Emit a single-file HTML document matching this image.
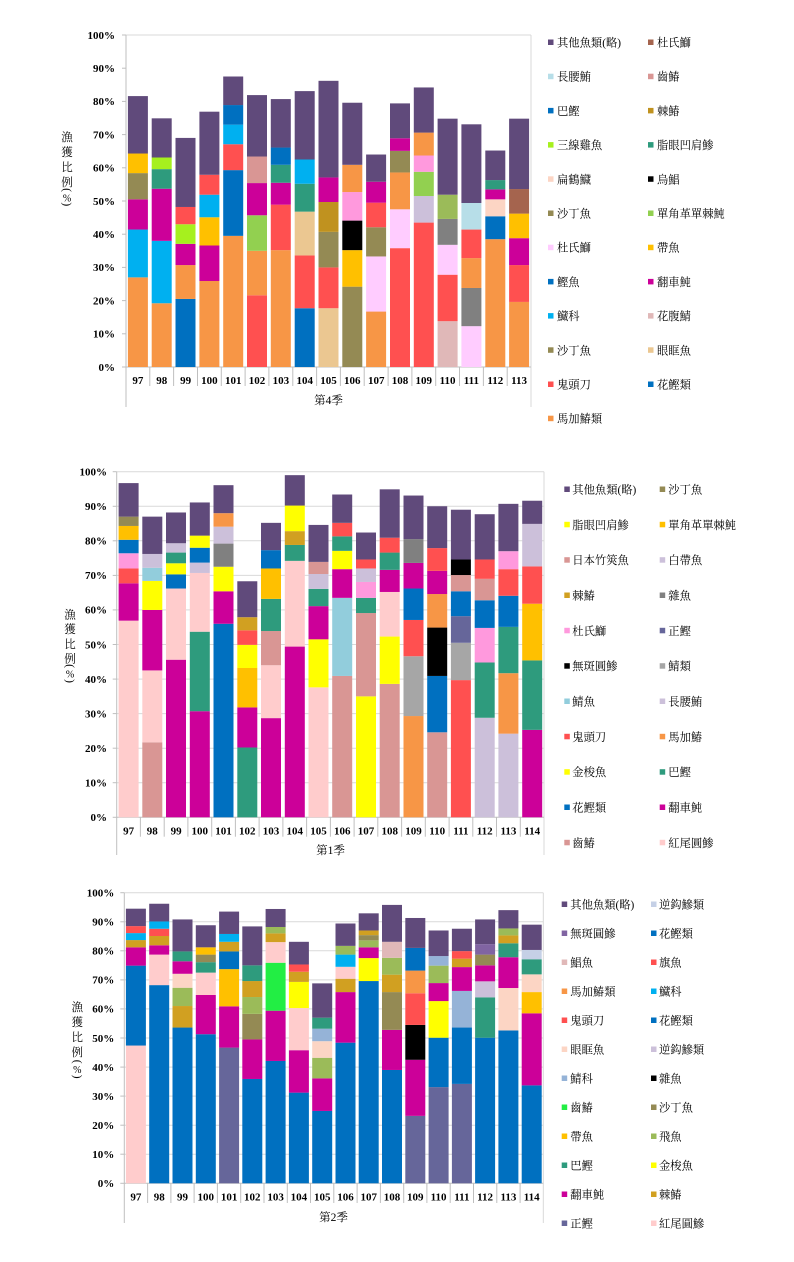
<!DOCTYPE html>
<html><head><meta charset="utf-8">
<style>
html,body{margin:0;padding:0;background:#fff;}
svg{display:block;}
.pu{fill:#604A7B}.br{fill:#A5644E}.lb{fill:#B7DEE8}.ro{fill:#D99694}.bl{fill:#0070C0}
.dg{fill:#C0921F}.dg2{fill:#D1A021}.li{fill:#A6F01E}.te{fill:#2E9B7D}.pe{fill:#FCD5C4}
.bk{fill:#000}.ol{fill:#948A54}.gr{fill:#92D050}.lp{fill:#FFCCFF}.go{fill:#FFC000}
.ma{fill:#CC0099}.cy{fill:#00B0F0}.dp{fill:#E0B8B8}.ta{fill:#EBC791}.re{fill:#FF5050}
.or{fill:#F79646}.gy{fill:#808080}.la{fill:#CCC0DA}.og{fill:#9BBB59}.pk{fill:#FF99DD}
.ye{fill:#FFFF00}.lk{fill:#FFCCCC}.sk{fill:#92CDDC}.lg{fill:#A6A6A6}.sl{fill:#66669A}
.bg{fill:#22EE44}.st{fill:#95B3D7}.ll{fill:#C5D0E6}.sp{fill:#8064A2}
.tk{font-family:"Liberation Serif",serif;font-weight:bold;font-size:11px;fill:#000;}
.lg1{font-family:"Liberation Serif","Noto Serif CJK SC",serif;font-size:11.3px;fill:#000;}
.ax{font-family:"Liberation Serif","Noto Serif CJK SC",serif;font-size:11.5px;fill:#000;}
</style></head>
<body>
<svg width="794" height="1262" viewBox="0 0 794 1262" xmlns="http://www.w3.org/2000/svg">

<!-- ================= CHART 1 ================= -->
<g stroke="#D9D9D9" stroke-width="1" fill="none">
<line x1="126" y1="35" x2="531" y2="35"/>
<line x1="531" y1="35" x2="531" y2="407"/>
</g>
<g stroke="#BFBFBF" stroke-width="1">
<line x1="126" y1="35" x2="126" y2="407"/>
<line x1="126" y1="367" x2="531" y2="367"/>
<line x1="122" y1="367" x2="126" y2="367"/><line x1="122" y1="333.8" x2="126" y2="333.8"/><line x1="122" y1="300.6" x2="126" y2="300.6"/><line x1="122" y1="267.4" x2="126" y2="267.4"/><line x1="122" y1="234.2" x2="126" y2="234.2"/><line x1="122" y1="201" x2="126" y2="201"/><line x1="122" y1="167.8" x2="126" y2="167.8"/><line x1="122" y1="134.6" x2="126" y2="134.6"/><line x1="122" y1="101.4" x2="126" y2="101.4"/><line x1="122" y1="68.2" x2="126" y2="68.2"/><line x1="122" y1="35" x2="126" y2="35"/>
<line x1="149.8" y1="367" x2="149.8" y2="386"/><line x1="173.6" y1="367" x2="173.6" y2="386"/><line x1="197.5" y1="367" x2="197.5" y2="386"/><line x1="221.3" y1="367" x2="221.3" y2="386"/><line x1="245.1" y1="367" x2="245.1" y2="386"/><line x1="268.9" y1="367" x2="268.9" y2="386"/><line x1="292.8" y1="367" x2="292.8" y2="386"/><line x1="316.6" y1="367" x2="316.6" y2="386"/><line x1="340.4" y1="367" x2="340.4" y2="386"/><line x1="364.2" y1="367" x2="364.2" y2="386"/><line x1="388.1" y1="367" x2="388.1" y2="386"/><line x1="411.9" y1="367" x2="411.9" y2="386"/><line x1="435.7" y1="367" x2="435.7" y2="386"/><line x1="459.5" y1="367" x2="459.5" y2="386"/><line x1="483.4" y1="367" x2="483.4" y2="386"/><line x1="507.2" y1="367" x2="507.2" y2="386"/>
</g>
<g class="tk" text-anchor="end">
<text x="115" y="370.8">0%</text><text x="115" y="337.6">10%</text><text x="115" y="304.4">20%</text><text x="115" y="271.2">30%</text><text x="115" y="238">40%</text><text x="115" y="204.8">50%</text><text x="115" y="171.6">60%</text><text x="115" y="138.4">70%</text><text x="115" y="105.2">80%</text><text x="115" y="72">90%</text><text x="115" y="38.8">100%</text>
</g>
<g class="tk" text-anchor="middle">
<text x="137.9" y="384">97</text><text x="161.7" y="384">98</text><text x="185.6" y="384">99</text><text x="209.4" y="384">100</text><text x="233.2" y="384">101</text><text x="257" y="384">102</text><text x="280.9" y="384">103</text><text x="304.7" y="384">104</text><text x="328.5" y="384">105</text><text x="352.3" y="384">106</text><text x="376.2" y="384">107</text><text x="400" y="384">108</text><text x="423.8" y="384">109</text><text x="447.6" y="384">110</text><text x="471.4" y="384">111</text><text x="495.3" y="384">112</text><text x="519.1" y="384">113</text>
</g>
<text class="ax" x="328.5" y="404" text-anchor="middle">第4季</text>
<g class="ax" text-anchor="middle">
<text x="67" y="141">漁</text><text x="67" y="156">獲</text><text x="67" y="171">比</text><text x="67" y="186">例</text>
<text transform="translate(67,190) rotate(90)" x="0" y="3.5">(</text>
<text x="67" y="201.3" font-size="10">%</text>
<text transform="translate(67,204.3) rotate(90)" x="0" y="3.5">)</text>
</g>

<g transform="translate(0,367) scale(1,-3.32)">
<g transform="translate(127.9,0)"><rect width="20" y="0" height="27" class="or"/><rect width="20" y="27" height="14.4" class="cy"/><rect width="20" y="41.4" height="9.1" class="ma"/><rect width="20" y="50.5" height="7.9" class="ol"/><rect width="20" y="58.4" height="5.9" class="go"/><rect width="20" y="64.3" height="17.3" class="pu"/></g>
<g transform="translate(151.7,0)"><rect width="20" y="0" height="19.2" class="or"/><rect width="20" y="19.2" height="18.8" class="cy"/><rect width="20" y="38" height="15.7" class="ma"/><rect width="20" y="53.7" height="5.9" class="te"/><rect width="20" y="59.6" height="3.5" class="li"/><rect width="20" y="63.1" height="11.8" class="pu"/></g>
<g transform="translate(175.5,0)"><rect width="20" y="0" height="20.5" class="bl"/><rect width="20" y="20.5" height="10.2" class="or"/><rect width="20" y="30.7" height="6.4" class="ma"/><rect width="20" y="37.1" height="5.9" class="li"/><rect width="20" y="43" height="5.2" class="re"/><rect width="20" y="48.2" height="20.8" class="pu"/></g>
<g transform="translate(199.4,0)"><rect width="20" y="0" height="25.9" class="or"/><rect width="20" y="25.9" height="10.7" class="ma"/><rect width="20" y="36.6" height="8.5" class="go"/><rect width="20" y="45.1" height="6.8" class="cy"/><rect width="20" y="51.9" height="6" class="re"/><rect width="20" y="57.9" height="19" class="pu"/></g>
<g transform="translate(223.2,0)"><rect width="20" y="0" height="39.5" class="or"/><rect width="20" y="39.5" height="19.8" class="bl"/><rect width="20" y="59.3" height="7.8" class="re"/><rect width="20" y="67.1" height="5.9" class="cy"/><rect width="20" y="73" height="5.9" class="bl"/><rect width="20" y="78.9" height="8.6" class="pu"/></g>
<g transform="translate(247,0)"><rect width="20" y="0" height="21.6" class="re"/><rect width="20" y="21.6" height="13.4" class="or"/><rect width="20" y="35" height="10.7" class="gr"/><rect width="20" y="45.7" height="9.7" class="ma"/><rect width="20" y="55.4" height="8" class="ro"/><rect width="20" y="63.4" height="18.5" class="pu"/></g>
<g transform="translate(270.8,0)"><rect width="20" y="0" height="35.2" class="or"/><rect width="20" y="35.2" height="13.7" class="re"/><rect width="20" y="48.9" height="6.6" class="ma"/><rect width="20" y="55.5" height="5.4" class="te"/><rect width="20" y="60.9" height="5.2" class="bl"/><rect width="20" y="66.1" height="14.6" class="pu"/></g>
<g transform="translate(294.7,0)"><rect width="20" y="0" height="17.7" class="bl"/><rect width="20" y="17.7" height="15.9" class="re"/><rect width="20" y="33.6" height="13.2" class="ta"/><rect width="20" y="46.8" height="8.4" class="te"/><rect width="20" y="55.2" height="7.3" class="cy"/><rect width="20" y="62.5" height="20.6" class="pu"/></g>
<g transform="translate(318.5,0)"><rect width="20" y="0" height="17.7" class="ta"/><rect width="20" y="17.7" height="12.3" class="re"/><rect width="20" y="30" height="10.7" class="ol"/><rect width="20" y="40.7" height="9" class="dg"/><rect width="20" y="49.7" height="7.4" class="ma"/><rect width="20" y="57.1" height="29.1" class="pu"/></g>
<g transform="translate(342.3,0)"><rect width="20" y="0" height="24.2" class="ol"/><rect width="20" y="24.2" height="11" class="go"/><rect width="20" y="35.2" height="8.9" class="bk"/><rect width="20" y="44.1" height="8.6" class="pk"/><rect width="20" y="52.7" height="8.2" class="or"/><rect width="20" y="60.9" height="18.7" class="pu"/></g>
<g transform="translate(366.1,0)"><rect width="20" y="0" height="16.7" class="or"/><rect width="20" y="16.7" height="16.6" class="lp"/><rect width="20" y="33.3" height="8.8" class="ol"/><rect width="20" y="42.1" height="7.4" class="re"/><rect width="20" y="49.5" height="6.3" class="ma"/><rect width="20" y="55.8" height="8.2" class="pu"/></g>
<g transform="translate(390,0)"><rect width="20" y="0" height="35.8" class="re"/><rect width="20" y="35.8" height="11.7" class="lp"/><rect width="20" y="47.5" height="11.1" class="or"/><rect width="20" y="58.6" height="6.5" class="ol"/><rect width="20" y="65.1" height="3.8" class="ma"/><rect width="20" y="68.9" height="10.5" class="pu"/></g>
<g transform="translate(413.8,0)"><rect width="20" y="0" height="43.5" class="re"/><rect width="20" y="43.5" height="8" class="la"/><rect width="20" y="51.5" height="7.3" class="gr"/><rect width="20" y="58.8" height="4.9" class="pk"/><rect width="20" y="63.7" height="6.9" class="or"/><rect width="20" y="70.6" height="13.6" class="pu"/></g>
<g transform="translate(437.6,0)"><rect width="20" y="0" height="13.8" class="dp"/><rect width="20" y="13.8" height="14" class="re"/><rect width="20" y="27.8" height="9" class="lp"/><rect width="20" y="36.8" height="7.8" class="gy"/><rect width="20" y="44.6" height="7.3" class="og"/><rect width="20" y="51.9" height="22.9" class="pu"/></g>
<g transform="translate(461.4,0)"><rect width="20" y="0" height="12.3" class="lp"/><rect width="20" y="12.3" height="11.5" class="gy"/><rect width="20" y="23.8" height="9" class="or"/><rect width="20" y="32.8" height="8.6" class="re"/><rect width="20" y="41.4" height="8" class="lb"/><rect width="20" y="49.4" height="23.7" class="pu"/></g>
<g transform="translate(485.3,0)"><rect width="20" y="0" height="38.5" class="or"/><rect width="20" y="38.5" height="6.9" class="bl"/><rect width="20" y="45.4" height="5.1" class="pe"/><rect width="20" y="50.5" height="3" class="ma"/><rect width="20" y="53.5" height="2.8" class="te"/><rect width="20" y="56.3" height="8.9" class="pu"/></g>
<g transform="translate(509.1,0)"><rect width="20" y="0" height="19.6" class="or"/><rect width="20" y="19.6" height="11.1" class="re"/><rect width="20" y="30.7" height="8.1" class="ma"/><rect width="20" y="38.8" height="7.4" class="go"/><rect width="20" y="46.2" height="7.4" class="br"/><rect width="20" y="53.6" height="21.2" class="pu"/></g>
</g>

<!-- legend 1 -->
<g>
<rect x="548" y="39.5" width="5.5" height="5.5" class="pu"/><rect x="548" y="73.7" width="5.5" height="5.5" class="lb"/><rect x="548" y="107.9" width="5.5" height="5.5" class="bl"/><rect x="548" y="142.1" width="5.5" height="5.5" class="li"/><rect x="548" y="176.3" width="5.5" height="5.5" class="pe"/><rect x="548" y="210.5" width="5.5" height="5.5" class="ol"/><rect x="548" y="244.7" width="5.5" height="5.5" class="lp"/><rect x="548" y="278.9" width="5.5" height="5.5" class="bl"/><rect x="548" y="313.1" width="5.5" height="5.5" class="cy"/><rect x="548" y="347.3" width="5.5" height="5.5" class="ol"/><rect x="548" y="381.5" width="5.5" height="5.5" class="re"/><rect x="548" y="415.7" width="5.5" height="5.5" class="or"/>
<rect x="648" y="39.5" width="5.5" height="5.5" class="br"/><rect x="648" y="73.7" width="5.5" height="5.5" class="ro"/><rect x="648" y="107.9" width="5.5" height="5.5" class="dg"/><rect x="648" y="142.1" width="5.5" height="5.5" class="te"/><rect x="648" y="176.3" width="5.5" height="5.5" class="bk"/><rect x="648" y="210.5" width="5.5" height="5.5" class="gr"/><rect x="648" y="244.7" width="5.5" height="5.5" class="go"/><rect x="648" y="278.9" width="5.5" height="5.5" class="ma"/><rect x="648" y="313.1" width="5.5" height="5.5" class="dp"/><rect x="648" y="347.3" width="5.5" height="5.5" class="ta"/><rect x="648" y="381.5" width="5.5" height="5.5" class="bl"/>
</g>
<g class="lg1">
<text x="557" y="46.5">其他魚類(略)</text><text x="557" y="80.7">長腰鮪</text><text x="557" y="114.9">巴鰹</text><text x="557" y="149.1">三線雞魚</text><text x="557" y="183.3">扁鶴鱵</text><text x="557" y="217.5">沙丁魚</text><text x="557" y="251.7">杜氏鰤</text><text x="557" y="285.9">鰹魚</text><text x="557" y="320.1">鱵科</text><text x="557" y="354.3">沙丁魚</text><text x="557" y="388.5">鬼頭刀</text><text x="557" y="422.7">馬加鰆類</text>
<text x="657" y="46.5">杜氏鰤</text><text x="657" y="80.7">齒鰆</text><text x="657" y="114.9">棘鰆</text><text x="657" y="149.1">脂眼凹肩鯵</text><text x="657" y="183.3">烏鯧</text><text x="657" y="217.5">單角革單棘魨</text><text x="657" y="251.7">帶魚</text><text x="657" y="285.9">翻車魨</text><text x="657" y="320.1">花腹鯖</text><text x="657" y="354.3">眼眶魚</text><text x="657" y="388.5">花鰹類</text>
</g>

<!-- ================= CHART 2 ================= -->
<g stroke="#D9D9D9" stroke-width="1">
<line x1="116.7" y1="782.7" x2="544" y2="782.7"/><line x1="116.7" y1="748.2" x2="544" y2="748.2"/><line x1="116.7" y1="713.6" x2="544" y2="713.6"/><line x1="116.7" y1="679.1" x2="544" y2="679.1"/><line x1="116.7" y1="644.5" x2="544" y2="644.5"/><line x1="116.7" y1="609.9" x2="544" y2="609.9"/><line x1="116.7" y1="575.4" x2="544" y2="575.4"/><line x1="116.7" y1="540.8" x2="544" y2="540.8"/><line x1="116.7" y1="506.3" x2="544" y2="506.3"/><line x1="116.7" y1="471.7" x2="544" y2="471.7"/>
<line x1="544" y1="471.7" x2="544" y2="855"/>
</g>
<g stroke="#BFBFBF" stroke-width="1">
<line x1="116.7" y1="471.7" x2="116.7" y2="855"/>
<line x1="116.7" y1="817.3" x2="544" y2="817.3"/>
<line x1="112.7" y1="817.3" x2="116.7" y2="817.3"/><line x1="112.7" y1="782.7" x2="116.7" y2="782.7"/><line x1="112.7" y1="748.2" x2="116.7" y2="748.2"/><line x1="112.7" y1="713.6" x2="116.7" y2="713.6"/><line x1="112.7" y1="679.1" x2="116.7" y2="679.1"/><line x1="112.7" y1="644.5" x2="116.7" y2="644.5"/><line x1="112.7" y1="609.9" x2="116.7" y2="609.9"/><line x1="112.7" y1="575.4" x2="116.7" y2="575.4"/><line x1="112.7" y1="540.8" x2="116.7" y2="540.8"/><line x1="112.7" y1="506.3" x2="116.7" y2="506.3"/><line x1="112.7" y1="471.7" x2="116.7" y2="471.7"/>
<line x1="140.4" y1="817.3" x2="140.4" y2="836.7"/><line x1="164.2" y1="817.3" x2="164.2" y2="836.7"/><line x1="187.9" y1="817.3" x2="187.9" y2="836.7"/><line x1="211.7" y1="817.3" x2="211.7" y2="836.7"/><line x1="235.4" y1="817.3" x2="235.4" y2="836.7"/><line x1="259.1" y1="817.3" x2="259.1" y2="836.7"/><line x1="282.9" y1="817.3" x2="282.9" y2="836.7"/><line x1="306.6" y1="817.3" x2="306.6" y2="836.7"/><line x1="330.4" y1="817.3" x2="330.4" y2="836.7"/><line x1="354.1" y1="817.3" x2="354.1" y2="836.7"/><line x1="377.8" y1="817.3" x2="377.8" y2="836.7"/><line x1="401.6" y1="817.3" x2="401.6" y2="836.7"/><line x1="425.3" y1="817.3" x2="425.3" y2="836.7"/><line x1="449.1" y1="817.3" x2="449.1" y2="836.7"/><line x1="472.8" y1="817.3" x2="472.8" y2="836.7"/><line x1="496.5" y1="817.3" x2="496.5" y2="836.7"/><line x1="520.3" y1="817.3" x2="520.3" y2="836.7"/>
</g>
<g class="tk" text-anchor="end">
<text x="107" y="821.1">0%</text><text x="107" y="786.5">10%</text><text x="107" y="752">20%</text><text x="107" y="717.4">30%</text><text x="107" y="682.9">40%</text><text x="107" y="648.3">50%</text><text x="107" y="613.7">60%</text><text x="107" y="579.2">70%</text><text x="107" y="544.6">80%</text><text x="107" y="510.1">90%</text><text x="107" y="475.5">100%</text>
</g>
<g class="tk" text-anchor="middle">
<text x="128.6" y="834.3">97</text><text x="152.3" y="834.3">98</text><text x="176.1" y="834.3">99</text><text x="199.8" y="834.3">100</text><text x="223.5" y="834.3">101</text><text x="247.3" y="834.3">102</text><text x="271" y="834.3">103</text><text x="294.8" y="834.3">104</text><text x="318.5" y="834.3">105</text><text x="342.2" y="834.3">106</text><text x="366" y="834.3">107</text><text x="389.7" y="834.3">108</text><text x="413.5" y="834.3">109</text><text x="437.2" y="834.3">110</text><text x="460.9" y="834.3">111</text><text x="484.7" y="834.3">112</text><text x="508.4" y="834.3">113</text><text x="532.2" y="834.3">114</text>
</g>
<text class="ax" x="330.5" y="854" text-anchor="middle">第1季</text>
<g class="ax" text-anchor="middle">
<text x="70" y="618.6">漁</text><text x="70" y="633">獲</text><text x="70" y="648">比</text><text x="70" y="662.3">例</text>
<text transform="translate(70,666) rotate(90)" x="0" y="3.5">(</text>
<text x="70" y="677.3" font-size="10">%</text>
<text transform="translate(70,681) rotate(90)" x="0" y="3.5">)</text>
</g>

<g transform="translate(0,817.3) scale(1,-3.456)">
<g transform="translate(118.6,0)"><rect width="20" y="0" height="56.9" class="lk"/><rect width="20" y="56.9" height="10.8" class="ma"/><rect width="20" y="67.7" height="4.3" class="re"/><rect width="20" y="72" height="4.4" class="pk"/><rect width="20" y="76.4" height="3.9" class="bl"/><rect width="20" y="80.3" height="4" class="go"/><rect width="20" y="84.3" height="2.7" class="ol"/><rect width="20" y="87" height="9.7" class="pu"/></g>
<g transform="translate(142.3,0)"><rect width="20" y="0" height="21.7" class="ro"/><rect width="20" y="21.7" height="20.8" class="lk"/><rect width="20" y="42.5" height="17.5" class="ma"/><rect width="20" y="60" height="8.4" class="ye"/><rect width="20" y="68.4" height="3.8" class="sk"/><rect width="20" y="72.2" height="4" class="la"/><rect width="20" y="76.2" height="10.8" class="pu"/></g>
<g transform="translate(166,0)"><rect width="20" y="0" height="45.6" class="ma"/><rect width="20" y="45.6" height="20.6" class="lk"/><rect width="20" y="66.2" height="4.1" class="bl"/><rect width="20" y="70.3" height="3.2" class="ye"/><rect width="20" y="73.5" height="3.1" class="te"/><rect width="20" y="76.6" height="2.7" class="la"/><rect width="20" y="79.3" height="8.9" class="pu"/></g>
<g transform="translate(189.8,0)"><rect width="20" y="0" height="30.7" class="ma"/><rect width="20" y="30.7" height="23" class="te"/><rect width="20" y="53.7" height="17" class="lk"/><rect width="20" y="70.7" height="3" class="la"/><rect width="20" y="73.7" height="4.3" class="bl"/><rect width="20" y="78" height="3.5" class="ye"/><rect width="20" y="81.5" height="9.6" class="pu"/></g>
<g transform="translate(213.5,0)"><rect width="20" y="0" height="56" class="bl"/><rect width="20" y="56" height="9.4" class="ma"/><rect width="20" y="65.4" height="7.1" class="ye"/><rect width="20" y="72.5" height="6.7" class="gy"/><rect width="20" y="79.2" height="4.9" class="la"/><rect width="20" y="84.1" height="3.9" class="or"/><rect width="20" y="88" height="8.1" class="pu"/></g>
<g transform="translate(237.3,0)"><rect width="20" y="0" height="20.2" class="te"/><rect width="20" y="20.2" height="11.6" class="ma"/><rect width="20" y="31.8" height="11.4" class="go"/><rect width="20" y="43.2" height="6.7" class="ye"/><rect width="20" y="49.9" height="4.2" class="re"/><rect width="20" y="54.1" height="3.8" class="dg2"/><rect width="20" y="57.9" height="10.4" class="pu"/></g>
<g transform="translate(261,0)"><rect width="20" y="0" height="28.7" class="ma"/><rect width="20" y="28.7" height="15.3" class="lk"/><rect width="20" y="44" height="9.9" class="ro"/><rect width="20" y="53.9" height="9.3" class="te"/><rect width="20" y="63.2" height="8.8" class="go"/><rect width="20" y="72" height="5.3" class="bl"/><rect width="20" y="77.3" height="7.9" class="pu"/></g>
<g transform="translate(284.8,0)"><rect width="20" y="0" height="49.4" class="ma"/><rect width="20" y="49.4" height="24.8" class="lk"/><rect width="20" y="74.2" height="4.6" class="te"/><rect width="20" y="78.8" height="4" class="dg2"/><rect width="20" y="82.8" height="7.4" class="ye"/><rect width="20" y="90.2" height="8.8" class="pu"/></g>
<g transform="translate(308.5,0)"><rect width="20" y="0" height="37.6" class="lk"/><rect width="20" y="37.6" height="13.9" class="ye"/><rect width="20" y="51.5" height="9.6" class="ma"/><rect width="20" y="61.1" height="5" class="te"/><rect width="20" y="66.1" height="4.3" class="la"/><rect width="20" y="70.4" height="3.5" class="ro"/><rect width="20" y="73.9" height="10.7" class="pu"/></g>
<g transform="translate(332.2,0)"><rect width="20" y="0" height="40.9" class="ro"/><rect width="20" y="40.9" height="22.6" class="sk"/><rect width="20" y="63.5" height="8.3" class="ma"/><rect width="20" y="71.8" height="5.3" class="ye"/><rect width="20" y="77.1" height="4.2" class="te"/><rect width="20" y="81.3" height="3.9" class="re"/><rect width="20" y="85.2" height="8.2" class="pu"/></g>
<g transform="translate(356,0)"><rect width="20" y="0" height="35" class="ye"/><rect width="20" y="35" height="24.1" class="ro"/><rect width="20" y="59.1" height="4.4" class="te"/><rect width="20" y="63.5" height="4.6" class="pk"/><rect width="20" y="68.1" height="3.9" class="la"/><rect width="20" y="72" height="2.6" class="re"/><rect width="20" y="74.6" height="7.8" class="pu"/></g>
<g transform="translate(379.7,0)"><rect width="20" y="0" height="38.6" class="ro"/><rect width="20" y="38.6" height="13.7" class="ye"/><rect width="20" y="52.3" height="12.9" class="lk"/><rect width="20" y="65.2" height="6.4" class="ma"/><rect width="20" y="71.6" height="5" class="te"/><rect width="20" y="76.6" height="4.3" class="re"/><rect width="20" y="80.9" height="14" class="pu"/></g>
<g transform="translate(403.5,0)"><rect width="20" y="0" height="29.3" class="or"/><rect width="20" y="29.3" height="17.3" class="lg"/><rect width="20" y="46.6" height="10.5" class="re"/><rect width="20" y="57.1" height="9.1" class="bl"/><rect width="20" y="66.2" height="7.4" class="ma"/><rect width="20" y="73.6" height="6.9" class="gy"/><rect width="20" y="80.5" height="12.6" class="pu"/></g>
<g transform="translate(427.2,0)"><rect width="20" y="0" height="24.6" class="ro"/><rect width="20" y="24.6" height="16.3" class="bl"/><rect width="20" y="40.9" height="14" class="bk"/><rect width="20" y="54.9" height="9.7" class="or"/><rect width="20" y="64.6" height="6.7" class="ma"/><rect width="20" y="71.3" height="6.6" class="re"/><rect width="20" y="77.9" height="12.1" class="pu"/></g>
<g transform="translate(450.9,0)"><rect width="20" y="0" height="39.7" class="re"/><rect width="20" y="39.7" height="10.8" class="lg"/><rect width="20" y="50.5" height="7.7" class="sl"/><rect width="20" y="58.2" height="7.2" class="bl"/><rect width="20" y="65.4" height="4.7" class="ro"/><rect width="20" y="70.1" height="4.5" class="bk"/><rect width="20" y="74.6" height="14.4" class="pu"/></g>
<g transform="translate(474.7,0)"><rect width="20" y="0" height="28.8" class="la"/><rect width="20" y="28.8" height="16" class="te"/><rect width="20" y="44.8" height="10" class="pk"/><rect width="20" y="54.8" height="8" class="bl"/><rect width="20" y="62.8" height="6.2" class="ro"/><rect width="20" y="69" height="5.6" class="re"/><rect width="20" y="74.6" height="13.1" class="pu"/></g>
<g transform="translate(498.4,0)"><rect width="20" y="0" height="24.2" class="la"/><rect width="20" y="24.2" height="17.5" class="or"/><rect width="20" y="41.7" height="13.4" class="te"/><rect width="20" y="55.1" height="9" class="bl"/><rect width="20" y="64.1" height="7.7" class="re"/><rect width="20" y="71.8" height="5.2" class="pk"/><rect width="20" y="77" height="13.7" class="pu"/></g>
<g transform="translate(522.2,0)"><rect width="20" y="0" height="25.3" class="ma"/><rect width="20" y="25.3" height="20.1" class="te"/><rect width="20" y="45.4" height="16.4" class="go"/><rect width="20" y="61.8" height="10.8" class="re"/><rect width="20" y="72.6" height="12.3" class="la"/><rect width="20" y="84.9" height="6.7" class="pu"/></g>
</g>

<!-- legend 2 -->
<g>
<rect x="564.3" y="486.5" width="5.5" height="5.5" class="pu"/><rect x="564.3" y="521.8" width="5.5" height="5.5" class="ye"/><rect x="564.3" y="557.2" width="5.5" height="5.5" class="ro"/><rect x="564.3" y="592.5" width="5.5" height="5.5" class="dg2"/><rect x="564.3" y="627.8" width="5.5" height="5.5" class="pk"/><rect x="564.3" y="663.2" width="5.5" height="5.5" class="bk"/><rect x="564.3" y="698.5" width="5.5" height="5.5" class="sk"/><rect x="564.3" y="733.8" width="5.5" height="5.5" class="re"/><rect x="564.3" y="769.2" width="5.5" height="5.5" class="ye"/><rect x="564.3" y="804.5" width="5.5" height="5.5" class="bl"/><rect x="564.3" y="839.8" width="5.5" height="5.5" class="ro"/>
<rect x="659.7" y="486.5" width="5.5" height="5.5" class="ol"/><rect x="659.7" y="521.8" width="5.5" height="5.5" class="go"/><rect x="659.7" y="557.2" width="5.5" height="5.5" class="la"/><rect x="659.7" y="592.5" width="5.5" height="5.5" class="gy"/><rect x="659.7" y="627.8" width="5.5" height="5.5" class="sl"/><rect x="659.7" y="663.2" width="5.5" height="5.5" class="lg"/><rect x="659.7" y="698.5" width="5.5" height="5.5" class="la"/><rect x="659.7" y="733.8" width="5.5" height="5.5" class="or"/><rect x="659.7" y="769.2" width="5.5" height="5.5" class="te"/><rect x="659.7" y="804.5" width="5.5" height="5.5" class="ma"/><rect x="659.7" y="839.8" width="5.5" height="5.5" class="lk"/>
</g>
<g class="lg1">
<text x="572.3" y="493.5">其他魚類(略)</text><text x="572.3" y="528.8">脂眼凹肩鯵</text><text x="572.3" y="564.2">日本竹筴魚</text><text x="572.3" y="599.5">棘鰆</text><text x="572.3" y="634.8">杜氏鰤</text><text x="572.3" y="670.2">無斑圓鯵</text><text x="572.3" y="705.5">鯖魚</text><text x="572.3" y="740.8">鬼頭刀</text><text x="572.3" y="776.2">金梭魚</text><text x="572.3" y="811.5">花鰹類</text><text x="572.3" y="846.8">齒鰆</text>
<text x="668.3" y="493.5">沙丁魚</text><text x="668.3" y="528.8">單角革單棘魨</text><text x="668.3" y="564.2">白帶魚</text><text x="668.3" y="599.5">雜魚</text><text x="668.3" y="634.8">正鰹</text><text x="668.3" y="670.2">鯖類</text><text x="668.3" y="705.5">長腰鮪</text><text x="668.3" y="740.8">馬加鰆</text><text x="668.3" y="776.2">巴鰹</text><text x="668.3" y="811.5">翻車魨</text><text x="668.3" y="846.8">紅尾圓鯵</text>
</g>

<!-- ================= CHART 3 ================= -->
<g stroke="#D9D9D9" stroke-width="1">
<line x1="124.3" y1="1154.2" x2="543.3" y2="1154.2"/><line x1="124.3" y1="1125.2" x2="543.3" y2="1125.2"/><line x1="124.3" y1="1096.1" x2="543.3" y2="1096.1"/><line x1="124.3" y1="1067.1" x2="543.3" y2="1067.1"/><line x1="124.3" y1="1038" x2="543.3" y2="1038"/><line x1="124.3" y1="1008.9" x2="543.3" y2="1008.9"/><line x1="124.3" y1="979.9" x2="543.3" y2="979.9"/><line x1="124.3" y1="950.8" x2="543.3" y2="950.8"/><line x1="124.3" y1="921.8" x2="543.3" y2="921.8"/><line x1="124.3" y1="892.7" x2="543.3" y2="892.7"/>
<line x1="543.3" y1="892.7" x2="543.3" y2="1223"/>
</g>
<g stroke="#BFBFBF" stroke-width="1">
<line x1="124.3" y1="892.7" x2="124.3" y2="1223"/>
<line x1="124.3" y1="1183.3" x2="543.3" y2="1183.3"/>
<line x1="120.3" y1="1183.3" x2="124.3" y2="1183.3"/><line x1="120.3" y1="1154.2" x2="124.3" y2="1154.2"/><line x1="120.3" y1="1125.2" x2="124.3" y2="1125.2"/><line x1="120.3" y1="1096.1" x2="124.3" y2="1096.1"/><line x1="120.3" y1="1067.1" x2="124.3" y2="1067.1"/><line x1="120.3" y1="1038" x2="124.3" y2="1038"/><line x1="120.3" y1="1008.9" x2="124.3" y2="1008.9"/><line x1="120.3" y1="979.9" x2="124.3" y2="979.9"/><line x1="120.3" y1="950.8" x2="124.3" y2="950.8"/><line x1="120.3" y1="921.8" x2="124.3" y2="921.8"/><line x1="120.3" y1="892.7" x2="124.3" y2="892.7"/>
<line x1="147.6" y1="1183.3" x2="147.6" y2="1203"/><line x1="170.9" y1="1183.3" x2="170.9" y2="1203"/><line x1="194.1" y1="1183.3" x2="194.1" y2="1203"/><line x1="217.4" y1="1183.3" x2="217.4" y2="1203"/><line x1="240.7" y1="1183.3" x2="240.7" y2="1203"/><line x1="264" y1="1183.3" x2="264" y2="1203"/><line x1="287.3" y1="1183.3" x2="287.3" y2="1203"/><line x1="310.5" y1="1183.3" x2="310.5" y2="1203"/><line x1="333.8" y1="1183.3" x2="333.8" y2="1203"/><line x1="357.1" y1="1183.3" x2="357.1" y2="1203"/><line x1="380.4" y1="1183.3" x2="380.4" y2="1203"/><line x1="403.7" y1="1183.3" x2="403.7" y2="1203"/><line x1="426.9" y1="1183.3" x2="426.9" y2="1203"/><line x1="450.2" y1="1183.3" x2="450.2" y2="1203"/><line x1="473.5" y1="1183.3" x2="473.5" y2="1203"/><line x1="496.8" y1="1183.3" x2="496.8" y2="1203"/><line x1="520.1" y1="1183.3" x2="520.1" y2="1203"/>
</g>
<g class="tk" text-anchor="end">
<text x="114.3" y="1187.1">0%</text><text x="114.3" y="1158">10%</text><text x="114.3" y="1129">20%</text><text x="114.3" y="1099.9">30%</text><text x="114.3" y="1070.9">40%</text><text x="114.3" y="1041.8">50%</text><text x="114.3" y="1012.7">60%</text><text x="114.3" y="983.7">70%</text><text x="114.3" y="954.6">80%</text><text x="114.3" y="925.6">90%</text><text x="114.3" y="896.5">100%</text>
</g>
<g class="tk" text-anchor="middle">
<text x="135.9" y="1200.5">97</text><text x="159.2" y="1200.5">98</text><text x="182.5" y="1200.5">99</text><text x="205.8" y="1200.5">100</text><text x="229.1" y="1200.5">101</text><text x="252.3" y="1200.5">102</text><text x="275.6" y="1200.5">103</text><text x="298.9" y="1200.5">104</text><text x="322.2" y="1200.5">105</text><text x="345.5" y="1200.5">106</text><text x="368.7" y="1200.5">107</text><text x="392" y="1200.5">108</text><text x="415.3" y="1200.5">109</text><text x="438.6" y="1200.5">110</text><text x="461.9" y="1200.5">111</text><text x="485.1" y="1200.5">112</text><text x="508.4" y="1200.5">113</text><text x="531.7" y="1200.5">114</text>
</g>
<text class="ax" x="333.5" y="1221" text-anchor="middle">第2季</text>
<g class="ax" text-anchor="middle">
<text x="77.3" y="1011">漁</text><text x="77.3" y="1026">獲</text><text x="77.3" y="1041">比</text><text x="77.3" y="1056">例</text>
<text transform="translate(77.3,1061.7) rotate(90)" x="0" y="3.5">(</text>
<text x="77.3" y="1073" font-size="10">%</text>
<text transform="translate(77.3,1076.7) rotate(90)" x="0" y="3.5">)</text>
</g>

<g transform="translate(0,1183.3) scale(1,-2.906)">
<g transform="translate(125.9,0)"><rect width="20" y="0" height="47.4" class="lk"/><rect width="20" y="47.4" height="27.5" class="bl"/><rect width="20" y="74.9" height="6.3" class="ma"/><rect width="20" y="81.2" height="2.5" class="dg2"/><rect width="20" y="83.7" height="2.4" class="cy"/><rect width="20" y="86.1" height="2.4" class="re"/><rect width="20" y="88.5" height="6" class="pu"/></g>
<g transform="translate(149.2,0)"><rect width="20" y="0" height="68.2" class="bl"/><rect width="20" y="68.2" height="10.5" class="lk"/><rect width="20" y="78.7" height="3.2" class="ma"/><rect width="20" y="81.9" height="3.2" class="dg2"/><rect width="20" y="85.1" height="2.5" class="re"/><rect width="20" y="87.6" height="2.5" class="cy"/><rect width="20" y="90.1" height="6.1" class="pu"/></g>
<g transform="translate(172.5,0)"><rect width="20" y="0" height="53.6" class="bl"/><rect width="20" y="53.6" height="7.4" class="dg2"/><rect width="20" y="61" height="6.3" class="og"/><rect width="20" y="67.3" height="4.8" class="pe"/><rect width="20" y="72.1" height="4.3" class="ma"/><rect width="20" y="76.4" height="3.4" class="te"/><rect width="20" y="79.8" height="11" class="pu"/></g>
<g transform="translate(195.8,0)"><rect width="20" y="0" height="51.3" class="bl"/><rect width="20" y="51.3" height="13.5" class="ma"/><rect width="20" y="64.8" height="7.7" class="lk"/><rect width="20" y="72.5" height="3.6" class="te"/><rect width="20" y="76.1" height="2.6" class="ol"/><rect width="20" y="78.7" height="2.5" class="go"/><rect width="20" y="81.2" height="7.6" class="pu"/></g>
<g transform="translate(219.1,0)"><rect width="20" y="0" height="46.7" class="sl"/><rect width="20" y="46.7" height="14.2" class="ma"/><rect width="20" y="60.9" height="12.8" class="go"/><rect width="20" y="73.7" height="6.1" class="bl"/><rect width="20" y="79.8" height="3.3" class="dg2"/><rect width="20" y="83.1" height="2.7" class="cy"/><rect width="20" y="85.8" height="7.7" class="pu"/></g>
<g transform="translate(242.3,0)"><rect width="20" y="0" height="35.9" class="bl"/><rect width="20" y="35.9" height="13.6" class="ma"/><rect width="20" y="49.5" height="8.8" class="ol"/><rect width="20" y="58.3" height="5.8" class="og"/><rect width="20" y="64.1" height="5.5" class="dg2"/><rect width="20" y="69.6" height="5.4" class="te"/><rect width="20" y="75" height="13.4" class="pu"/></g>
<g transform="translate(265.6,0)"><rect width="20" y="0" height="42.1" class="bl"/><rect width="20" y="42.1" height="17.3" class="ma"/><rect width="20" y="59.4" height="16.5" class="bg"/><rect width="20" y="75.9" height="7.1" class="lk"/><rect width="20" y="83" height="3" class="dg2"/><rect width="20" y="86" height="2.2" class="og"/><rect width="20" y="88.2" height="6.2" class="pu"/></g>
<g transform="translate(288.9,0)"><rect width="20" y="0" height="31.2" class="bl"/><rect width="20" y="31.2" height="14.6" class="ma"/><rect width="20" y="45.8" height="14.5" class="lk"/><rect width="20" y="60.3" height="9" class="ye"/><rect width="20" y="69.3" height="3.5" class="dg2"/><rect width="20" y="72.8" height="2.5" class="re"/><rect width="20" y="75.3" height="7.8" class="pu"/></g>
<g transform="translate(312.2,0)"><rect width="20" y="0" height="24.9" class="bl"/><rect width="20" y="24.9" height="11.2" class="ma"/><rect width="20" y="36.1" height="7.1" class="og"/><rect width="20" y="43.2" height="5.7" class="pe"/><rect width="20" y="48.9" height="4.3" class="st"/><rect width="20" y="53.2" height="3.8" class="te"/><rect width="20" y="57" height="11.8" class="pu"/></g>
<g transform="translate(335.5,0)"><rect width="20" y="0" height="48.4" class="bl"/><rect width="20" y="48.4" height="17.4" class="ma"/><rect width="20" y="65.8" height="4.6" class="dg2"/><rect width="20" y="70.4" height="4.1" class="lk"/><rect width="20" y="74.5" height="4.2" class="cy"/><rect width="20" y="78.7" height="3" class="og"/><rect width="20" y="81.7" height="7.7" class="pu"/></g>
<g transform="translate(358.7,0)"><rect width="20" y="0" height="69.6" class="bl"/><rect width="20" y="69.6" height="7.9" class="ye"/><rect width="20" y="77.5" height="3.7" class="ma"/><rect width="20" y="81.2" height="2.4" class="og"/><rect width="20" y="83.6" height="1.8" class="ol"/><rect width="20" y="85.4" height="1.6" class="dg2"/><rect width="20" y="87" height="5.9" class="pu"/></g>
<g transform="translate(382,0)"><rect width="20" y="0" height="39" class="bl"/><rect width="20" y="39" height="13.8" class="ma"/><rect width="20" y="52.8" height="13" class="ol"/><rect width="20" y="65.8" height="6" class="dg2"/><rect width="20" y="71.8" height="5.8" class="og"/><rect width="20" y="77.6" height="5.5" class="dp"/><rect width="20" y="83.1" height="12.7" class="pu"/></g>
<g transform="translate(405.3,0)"><rect width="20" y="0" height="23.2" class="sl"/><rect width="20" y="23.2" height="19.3" class="ma"/><rect width="20" y="42.5" height="12" class="bk"/><rect width="20" y="54.5" height="10.9" class="re"/><rect width="20" y="65.4" height="7.8" class="or"/><rect width="20" y="73.2" height="7.8" class="bl"/><rect width="20" y="81" height="10.3" class="pu"/></g>
<g transform="translate(428.6,0)"><rect width="20" y="0" height="33.1" class="sl"/><rect width="20" y="33.1" height="17" class="bl"/><rect width="20" y="50.1" height="12.6" class="ye"/><rect width="20" y="62.7" height="6.2" class="ma"/><rect width="20" y="68.9" height="6" class="og"/><rect width="20" y="74.9" height="3.3" class="st"/><rect width="20" y="78.2" height="8.8" class="pu"/></g>
<g transform="translate(451.9,0)"><rect width="20" y="0" height="34.2" class="sl"/><rect width="20" y="34.2" height="19.4" class="bl"/><rect width="20" y="53.6" height="12.6" class="st"/><rect width="20" y="66.2" height="8.2" class="ma"/><rect width="20" y="74.4" height="2.9" class="dg2"/><rect width="20" y="77.3" height="2.6" class="re"/><rect width="20" y="79.9" height="7.7" class="pu"/></g>
<g transform="translate(475.1,0)"><rect width="20" y="0" height="50.1" class="bl"/><rect width="20" y="50.1" height="13.9" class="te"/><rect width="20" y="64" height="5.5" class="la"/><rect width="20" y="69.5" height="5.5" class="ma"/><rect width="20" y="75" height="3.7" class="ol"/><rect width="20" y="78.7" height="3.6" class="sp"/><rect width="20" y="82.3" height="8.5" class="pu"/></g>
<g transform="translate(498.4,0)"><rect width="20" y="0" height="52.6" class="bl"/><rect width="20" y="52.6" height="14.6" class="pe"/><rect width="20" y="67.2" height="10.6" class="ma"/><rect width="20" y="77.8" height="4.8" class="te"/><rect width="20" y="82.6" height="2.7" class="dg2"/><rect width="20" y="85.3" height="2.4" class="og"/><rect width="20" y="87.7" height="6.3" class="pu"/></g>
<g transform="translate(521.7,0)"><rect width="20" y="0" height="33.7" class="bl"/><rect width="20" y="33.7" height="24.8" class="ma"/><rect width="20" y="58.5" height="7.3" class="go"/><rect width="20" y="65.8" height="6.1" class="pe"/><rect width="20" y="71.9" height="5.2" class="te"/><rect width="20" y="77.1" height="3.2" class="ll"/><rect width="20" y="80.3" height="8.7" class="pu"/></g>
</g>

<!-- legend 3 -->
<g>
<rect x="561.7" y="901.5" width="5.5" height="5.5" class="pu"/><rect x="561.7" y="930.5" width="5.5" height="5.5" class="sp"/><rect x="561.7" y="959.5" width="5.5" height="5.5" class="dp"/><rect x="561.7" y="988.5" width="5.5" height="5.5" class="or"/><rect x="561.7" y="1017.5" width="5.5" height="5.5" class="re"/><rect x="561.7" y="1046.5" width="5.5" height="5.5" class="pe"/><rect x="561.7" y="1075.5" width="5.5" height="5.5" class="st"/><rect x="561.7" y="1104.5" width="5.5" height="5.5" class="bg"/><rect x="561.7" y="1133.5" width="5.5" height="5.5" class="go"/><rect x="561.7" y="1162.5" width="5.5" height="5.5" class="te"/><rect x="561.7" y="1191.5" width="5.5" height="5.5" class="ma"/><rect x="561.7" y="1220.5" width="5.5" height="5.5" class="sl"/>
<rect x="651" y="901.5" width="5.5" height="5.5" class="ll"/><rect x="651" y="930.5" width="5.5" height="5.5" class="bl"/><rect x="651" y="959.5" width="5.5" height="5.5" class="re"/><rect x="651" y="988.5" width="5.5" height="5.5" class="cy"/><rect x="651" y="1017.5" width="5.5" height="5.5" class="bl"/><rect x="651" y="1046.5" width="5.5" height="5.5" class="la"/><rect x="651" y="1075.5" width="5.5" height="5.5" class="bk"/><rect x="651" y="1104.5" width="5.5" height="5.5" class="ol"/><rect x="651" y="1133.5" width="5.5" height="5.5" class="og"/><rect x="651" y="1162.5" width="5.5" height="5.5" class="ye"/><rect x="651" y="1191.5" width="5.5" height="5.5" class="dg2"/><rect x="651" y="1220.5" width="5.5" height="5.5" class="lk"/>
</g>
<g class="lg1">
<text x="570.3" y="908.5">其他魚類(略)</text><text x="570.3" y="937.5">無斑圓鰺</text><text x="570.3" y="966.5">鯧魚</text><text x="570.3" y="995.5">馬加鰆類</text><text x="570.3" y="1024.5">鬼頭刀</text><text x="570.3" y="1053.5">眼眶魚</text><text x="570.3" y="1082.5">鯖科</text><text x="570.3" y="1111.5">齒鰆</text><text x="570.3" y="1140.5">帶魚</text><text x="570.3" y="1169.5">巴鰹</text><text x="570.3" y="1198.5">翻車魨</text><text x="570.3" y="1227.5">正鰹</text>
<text x="659" y="908.5">逆鈎鰺類</text><text x="659" y="937.5">花鰹類</text><text x="659" y="966.5">旗魚</text><text x="659" y="995.5">鱵科</text><text x="659" y="1024.5">花鰹類</text><text x="659" y="1053.5">逆鈎鰺類</text><text x="659" y="1082.5">雜魚</text><text x="659" y="1111.5">沙丁魚</text><text x="659" y="1140.5">飛魚</text><text x="659" y="1169.5">金梭魚</text><text x="659" y="1198.5">棘鰆</text><text x="659" y="1227.5">紅尾圓鰺</text>
</g>
</svg>
</body></html>
